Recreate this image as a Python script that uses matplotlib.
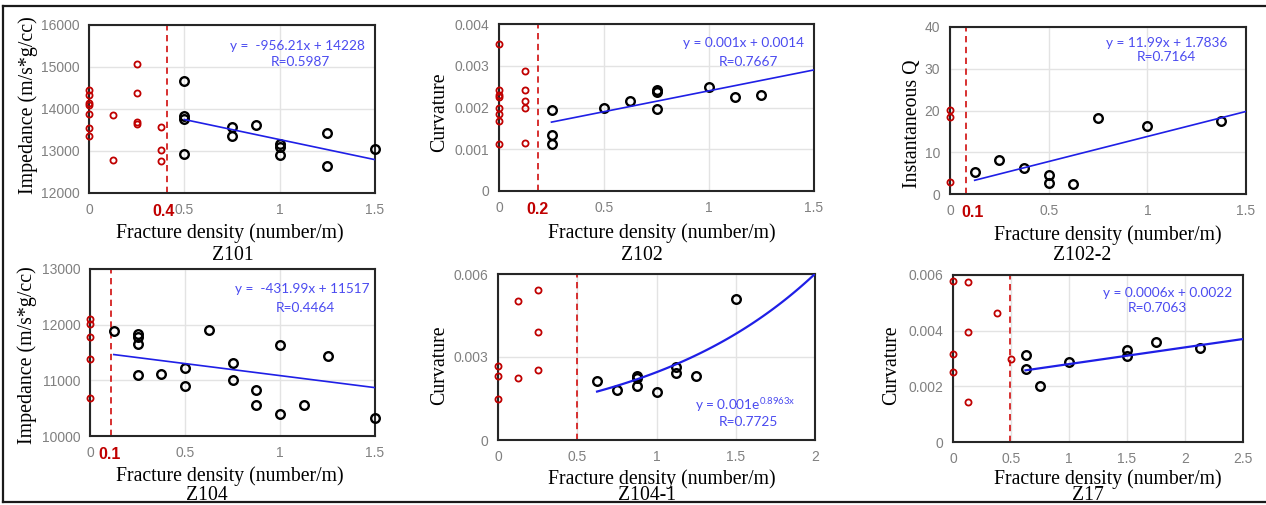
import numpy as np
import matplotlib
matplotlib.use('Agg')
import matplotlib.pyplot as plt
from matplotlib.lines import Line2D
from matplotlib.ticker import FuncFormatter

# canvas in pixels (dpi 100)
W, H = 1266, 505

plt.rcParams.update({
    'font.family': 'Liberation Sans',
    'mathtext.fontset': 'custom',
    'mathtext.rm': 'Lato',
    'axes.linewidth': 1.5,
    'axes.edgecolor': '#262626',
})

RED = '#C00000'
BLUE_LINE = '#1F1FE6'
BLUE_TEXT = '#4B4BF0'
TICK_GREY = '#808080'
GRID = '#E3E3E3'
SERIF = 'Liberation Serif'

# ── Z101 ─────────────────────────────────────────────────────────────────────
z101_red_x = [0, 0, 0, 0, 0, 0, 0, 0.125, 0.125, 0.25, 0.25, 0.25, 0.25, 0.375, 0.375, 0.375]
z101_red_y = [14450, 14340, 14140, 14100, 13890, 13540, 13360, 13850, 12780,
              15060, 14380, 13700, 13650, 13570, 13020, 12760]
z101_blk_x = [0.5, 0.5, 0.5, 0.5, 0.75, 0.75, 0.875, 1, 1, 1, 1.25, 1.25, 1.5]
z101_blk_y = [14670, 13840, 13770, 12940, 13580, 13350, 13620, 13160, 13100, 12900,
              13420, 12650, 13050]

# ── Z102 ─────────────────────────────────────────────────────────────────────
z102_red_x = [0] * 8 + [0.125] * 5
z102_red_y = [0.00352, 0.00243, 0.0023, 0.00224, 0.002, 0.00185, 0.00168, 0.00112,
              0.00288, 0.00243, 0.00216, 0.00199, 0.00115]
z102_blk_x = [0.25, 0.25, 0.25, 0.5, 0.625, 0.75, 0.75, 0.75, 1, 1.125, 1.25]
z102_blk_y = [0.00195, 0.00134, 0.00112, 0.00198, 0.00215, 0.00242, 0.00238, 0.00196,
              0.00248, 0.00226, 0.0023]

# ── Z102-2 ───────────────────────────────────────────────────────────────────
z1022_red_x = [0, 0, 0]
z1022_red_y = [20.1, 18.5, 2.8]
z1022_blk_x = [0.125, 0.25, 0.375, 0.5, 0.5, 0.625, 0.75, 1.0, 1.375]
z1022_blk_y = [5.3, 8.1, 6.3, 4.5, 2.6, 2.3, 18.1, 16.3, 17.4]

# ── Z104 ─────────────────────────────────────────────────────────────────────
z104_red_x = [0, 0, 0, 0, 0]
z104_red_y = [12100, 12010, 11770, 11380, 10690]
z104_blk_x = [0.125, 0.25, 0.25, 0.25, 0.25, 0.375, 0.5, 0.5, 0.625, 0.75, 0.75,
              0.875, 0.875, 1, 1, 1.125, 1.25, 1.5]
z104_blk_y = [11890, 11840, 11780, 11660, 11100, 11110, 11230, 10890, 11900, 11320,
              11010, 10830, 10560, 11630, 10390, 10560, 11440, 10320]

# ── Z104-1 ───────────────────────────────────────────────────────────────────
z1041_red_x = [0, 0, 0, 0.125, 0.125, 0.25, 0.25, 0.25]
z1041_red_y = [0.00269, 0.00233, 0.00148, 0.00504, 0.00225, 0.00543, 0.00392, 0.00254]
z1041_blk_x = [0.625, 0.75, 0.875, 0.875, 0.875, 1, 1.125, 1.125, 1.25, 1.5]
z1041_blk_y = [0.00213, 0.00181, 0.00231, 0.00225, 0.00196, 0.00175, 0.00265, 0.00242,
               0.0023, 0.00508]

# ── Z17 ──────────────────────────────────────────────────────────────────────
z17_red_x = [0, 0, 0, 0.125, 0.125, 0.125, 0.375, 0.5]
z17_red_y = [0.00579, 0.00316, 0.00251, 0.00576, 0.00396, 0.00145, 0.00463, 0.00299]
z17_blk_x = [0.625, 0.625, 0.75, 1, 1.5, 1.5, 1.75, 2.125]
z17_blk_y = [0.00312, 0.00263, 0.00202, 0.00286, 0.00331, 0.0031, 0.00359, 0.00336]

# panel layout: box in pixels (left, top, right, bottom)
panels = [
    dict(name='Z101', box=(89, 25, 375, 193), xlim=(0, 1.5), xt=[0, 0.5, 1, 1.5],
         ylim=(12000, 16000), yt=[12000, 13000, 14000, 15000, 16000],
         red=(z101_red_x, z101_red_y), blk=(z101_blk_x, z101_blk_y),
         fit=('lin', -956.21, 14228, 0.5, 1.5), cut=0.41, cut_lbl=('0.4', 0.39),
         eq='y =  -956.21x + 14228', R='R=0.5987', eq_xy=(297, 46), r_xy=(300, 62),
         ylabel='Impedance (m/s*g/cc)', yl_xy=(28, 105), xl_xy=(230, 233), t_xy=(233, 255)),
    dict(name='Z102', box=(499, 24, 814, 191), xlim=(0, 1.5), xt=[0, 0.5, 1, 1.5],
         ylim=(0, 0.004), yt=[0, 0.001, 0.002, 0.003, 0.004],
         red=(z102_red_x, z102_red_y), blk=(z102_blk_x, z102_blk_y),
         fit=('lin', 0.001, 0.0014, 0.25, 1.5), cut=0.185, cut_lbl=('0.2', 0.185),
         eq='y = 0.001x + 0.0014', R='R=0.7667', eq_xy=(743, 43), r_xy=(748, 62),
         ylabel='Curvature', yl_xy=(440, 112), xl_xy=(662, 233), t_xy=(642, 255)),
    dict(name='Z102-2', box=(950, 27, 1246, 194), xlim=(0, 1.5), xt=[0, 0.5, 1, 1.5],
         ylim=(0, 40), yt=[0, 10, 20, 30, 40],
         red=(z1022_red_x, z1022_red_y), blk=(z1022_blk_x, z1022_blk_y),
         fit=('lin', 11.99, 1.7836, 0.125, 1.5), cut=0.08, cut_lbl=('0.1', 0.113),
         eq='y = 11.99x + 1.7836', R='R=0.7164', eq_xy=(1167, 43), r_xy=(1166, 57),
         ylabel='Instantaneous Q', yl_xy=(912, 124), xl_xy=(1108, 235), t_xy=(1082, 255)),
    dict(name='Z104', box=(90, 269, 375, 436), xlim=(0, 1.5), xt=[0, 0.5, 1, 1.5],
         ylim=(10000, 13000), yt=[10000, 11000, 12000, 13000],
         red=(z104_red_x, z104_red_y), blk=(z104_blk_x, z104_blk_y),
         fit=('lin', -431.99, 11517, 0.125, 1.5), cut=0.108, cut_lbl=('0.1', 0.105),
         eq='y =  -431.99x + 11517', R='R=0.4464', eq_xy=(302, 289), r_xy=(305, 308),
         ylabel='Impedance (m/s*g/cc)', yl_xy=(27, 355), xl_xy=(230, 476), t_xy=(207, 496)),
    dict(name='Z104-1', box=(498, 274, 815, 440), xlim=(0, 2), xt=[0, 0.5, 1, 1.5, 2],
         ylim=(0, 0.006), yt=[0, 0.003, 0.006],
         red=(z1041_red_x, z1041_red_y), blk=(z1041_blk_x, z1041_blk_y),
         fit=('exp', 0.001, 0.8963, 0.625, 2.0), cut=0.5, cut_lbl=None,
         eq=r'y = 0.001e$^{\mathregular{0.8963x}}$', R='R=0.7725', eq_xy=(745, 405),
         r_xy=(748, 422), ylabel='Curvature', yl_xy=(440, 365), xl_xy=(662, 479),
         t_xy=(647, 496)),
    dict(name='Z17', box=(953, 275, 1243, 442), xlim=(0, 2.5), xt=[0, 0.5, 1, 1.5, 2, 2.5],
         ylim=(0, 0.006), yt=[0, 0.002, 0.004, 0.006],
         red=(z17_red_x, z17_red_y), blk=(z17_blk_x, z17_blk_y),
         fit=('lin', 0.0006, 0.0022, 0.625, 2.5), cut=0.49, cut_lbl=None,
         eq='y = 0.0006x + 0.0022', R='R=0.7063', eq_xy=(1168, 293), r_xy=(1157, 308),
         ylabel='Curvature', yl_xy=(892, 365), xl_xy=(1108, 479), t_xy=(1088, 496)),
]


def fx(x):
    return x / W


def fy(y):
    return 1 - y / H


fig = plt.figure(figsize=(W / 100, H / 100), dpi=100)

for p in panels:
    l, t, r, b = p['box']
    ax = fig.add_axes([fx(l), fy(b), (r - l) / W, (b - t) / H])
    ax.set_xlim(*p['xlim'])
    ax.set_ylim(*p['ylim'])
    ax.set_xticks(p['xt'])
    ax.set_yticks(p['yt'])
    fmt = FuncFormatter(lambda v, pos: '%g' % v)
    ax.xaxis.set_major_formatter(fmt)
    ax.yaxis.set_major_formatter(fmt)
    ax.tick_params(length=0, labelsize=10, labelcolor=TICK_GREY, pad=7)
    ax.grid(True, color=GRID, linewidth=1.0)
    ax.set_axisbelow(True)

    # threshold
    ax.axvline(p['cut'], color='#D42020', linewidth=1.3, linestyle=(0, (3.5, 2.5)), zorder=2)
    if p['cut_lbl']:
        txt, xpos = p['cut_lbl']
        ax.annotate(txt, xy=(xpos, 0), xycoords=('data', 'axes fraction'),
                    xytext=(0, -13.5), textcoords='offset points',
                    ha='center', va='center', color=RED, fontsize=11.5, fontweight='bold',
                    annotation_clip=False)

    # scatter
    rx, ry = p['red']
    ax.plot(rx, ry, linestyle='none', marker='o', ms=4.4, mfc='none', mec=RED,
            mew=1.3, zorder=3, clip_on=False)
    bx, by = p['blk']
    ax.plot(bx, by, linestyle='none', marker='o', ms=6.2, mfc='none', mec='black',
            mew=1.7, zorder=3, clip_on=False)

    # trend line
    kind, a, c, x0, x1 = p['fit']
    xs = np.linspace(x0, x1, 80)
    ys = a * xs + c if kind == 'lin' else a * np.exp(c * xs)
    lw = 1.2 if p['name'] in ('Z101', 'Z102', 'Z102-2', 'Z104') else 1.6
    ax.plot(xs, ys, color=BLUE_LINE, linewidth=lw, zorder=4)

    fig.text(fx(p['eq_xy'][0]), fy(p['eq_xy'][1]), p['eq'], ha='center', va='center',
             color=BLUE_TEXT, fontsize=9.8, family='Lato')
    fig.text(fx(p['r_xy'][0]), fy(p['r_xy'][1]), p['R'], ha='center', va='center',
             color=BLUE_TEXT, fontsize=9.8, family='Lato')

    fig.text(fx(p['yl_xy'][0]), fy(p['yl_xy'][1]), p['ylabel'], rotation=90,
             ha='center', va='center', fontsize=14.3, family=SERIF)
    fig.text(fx(p['xl_xy'][0]), fy(p['xl_xy'][1]), 'Fracture density (number/m)',
             ha='center', va='center', fontsize=14.2, family=SERIF)
    fig.text(fx(p['t_xy'][0]), fy(p['t_xy'][1]), p['name'],
             ha='center', va='center', fontsize=14.2, family=SERIF)

# outer frame (right edge runs off the picture)
for xs_, ys_ in [((3, 3), (6, 502)), ((3, 1266), (6, 6)), ((3, 1266), (502, 502))]:
    fig.add_artist(Line2D([fx(v) for v in xs_], [fy(v) for v in ys_], color='#1a1a1a',
                          linewidth=1.6, transform=fig.transFigure))

fig.savefig('out.png', dpi=100, facecolor='white')
